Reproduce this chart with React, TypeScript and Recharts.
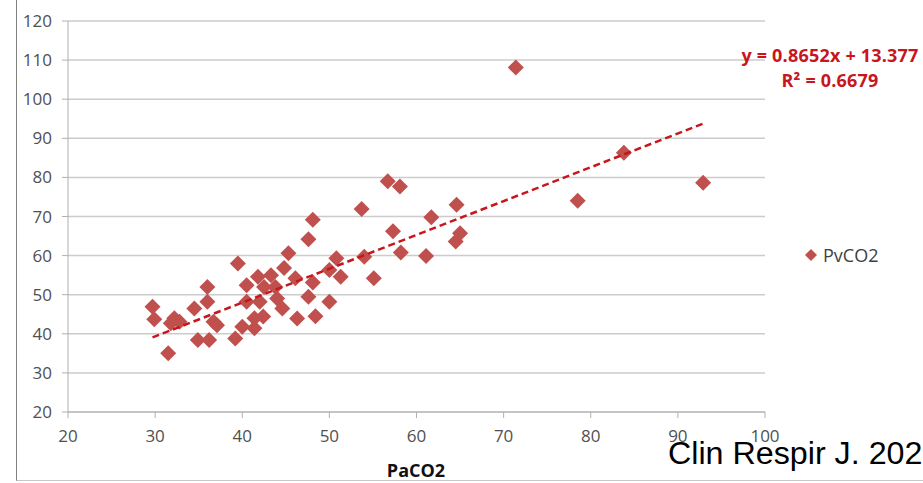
import { ScatterChart, Scatter, XAxis, YAxis, CartesianGrid, ZAxis } from 'recharts'

const paco2 = [
  29.7, 29.9, 31.5, 31.8, 32.2, 32.8, 34.5, 34.9, 36.0, 36.0, 36.2, 36.7, 37.1, 39.2, 39.5,
  40.0, 40.5, 40.5, 41.4, 41.4, 41.8, 42.0, 42.4, 42.5, 43.3, 43.8, 44.0, 44.6, 44.8, 45.3,
  46.1, 46.3, 47.6, 47.6, 48.1, 48.1, 48.4, 50.0, 50.0, 50.8, 51.3, 53.7, 54.0, 55.1, 56.7,
  57.3, 58.1, 58.2, 61.1, 61.7, 64.5, 64.6, 65.0, 71.4, 78.5, 83.8, 92.9,
]
const pvco2 = [
  46.9, 43.7, 35.0, 42.7, 44.0, 43.1, 46.5, 38.4, 52.0, 48.2, 38.4, 43.1, 42.2, 38.8, 58.0,
  41.8, 48.2, 52.4, 41.4, 44.0, 54.6, 48.2, 44.4, 52.0, 55.0, 52.0, 49.0, 46.5, 56.8, 60.6,
  54.2, 43.9, 64.2, 49.5, 69.2, 53.1, 44.5, 56.3, 48.2, 59.3, 54.6, 71.9, 59.7, 54.2, 79.0,
  66.2, 77.7, 60.8, 59.9, 69.8, 63.6, 73.0, 65.7, 108.1, 74.0, 86.3, 78.6,
]
const xTicks = [20, 30, 40, 50, 60, 70, 80, 90, 100]
const yTicks = [20, 30, 40, 50, 60, 70, 80, 90, 100, 110, 120]

// trendline from the equation printed on the chart
const slope = 0.8652
const intercept = 13.377
const rSquared = 0.6679

const points = paco2.map((x, i) => ({ x, y: pvco2[i] }))
const xMin = Math.min(...paco2)
const xMax = Math.max(...paco2)
const trend = [
  { x: xMin, y: slope * xMin + intercept },
  { x: xMax, y: slope * xMax + intercept },
]

const MARKER = '#c0504d'
const TREND = '#c8161d'
const FONT = '"Open Sans", sans-serif'

const Diamond = (props: any) => {
  const { cx, cy } = props
  const r = 8
  return (
    <polygon
      points={`${cx},${cy - r} ${cx + r},${cy} ${cx},${cy + r} ${cx - r},${cy}`}
      fill={MARKER}
    />
  )
}

export default function App() {
  return (
    <div style={{ position: 'absolute', left: 0, top: 0, width: 923, height: 483, overflow: 'hidden', background: '#fff' }}>
      <div
        style={{
          position: 'absolute', left: 16, top: 0, width: 907, height: 480,
          borderLeft: '1px solid #808080', borderBottom: '1px solid #c8c8c8',
        }}
      />
      <ScatterChart
        width={923}
        height={483}
        margin={{ top: 21, right: 158, left: 18, bottom: 41 }}
        style={{ position: 'absolute', left: 0, top: 0 }}
      >
        <CartesianGrid vertical={false} stroke="#cccccc" strokeWidth={1.5} />
        <XAxis
          type="number"
          dataKey="x"
          domain={[20, 100]}
          ticks={xTicks}
          height={30}
          stroke="#b0b0b0"
          tickSize={6}
          tickMargin={12}
          tick={{ fill: '#505050', fontSize: 17, fontFamily: FONT }}
        />
        <YAxis
          type="number"
          dataKey="y"
          domain={[20, 120]}
          ticks={yTicks}
          width={50}
          stroke="#b0b0b0"
          tickSize={6}
          tickMargin={10}
          tick={{ fill: '#505050', fontSize: 17, fontFamily: FONT }}
        />
        <ZAxis range={[100, 100]} />
        <Scatter data={points} shape={<Diamond />} isAnimationActive={false} />
        <Scatter
          data={trend}
          line={{ stroke: TREND, strokeWidth: 2.5, strokeDasharray: '7 4' }}
          lineType="joint"
          shape={() => <g />}
          legendType="none"
          isAnimationActive={false}
        />
      </ScatterChart>

      <div style={{ position: 'absolute', left: 330, top: 458, width: 172, textAlign: 'center', fontFamily: FONT, fontWeight: 700, fontSize: 18, color: '#111' }}>
        PaCO2
      </div>

      <div style={{ position: 'absolute', left: 720, top: 43, width: 220, textAlign: 'center', fontFamily: FONT, fontWeight: 700, fontSize: 18, color: TREND, lineHeight: '25px', whiteSpace: 'nowrap', letterSpacing: 0.2 }}>
        <div>y = {slope}x + {intercept}</div>
        <div>R² = {rSquared}</div>
      </div>

      <div style={{ position: 'absolute', left: 804, top: 243, display: 'flex', alignItems: 'center', fontFamily: FONT, fontSize: 18, color: '#404040' }}>
        <svg width={14} height={14} style={{ marginRight: 5 }}>
          <polygon points="7,1 13,7 7,13 1,7" fill={MARKER} />
        </svg>
        PvCO2
      </div>

      <div style={{ position: 'absolute', left: 668, top: 436, fontFamily: '"Liberation Sans", Arial, sans-serif', fontSize: 31, color: '#000', whiteSpace: 'nowrap', transform: 'scaleX(1.04)', transformOrigin: 'left' }}>
        Clin Respir J. 202
      </div>
    </div>
  )
}
